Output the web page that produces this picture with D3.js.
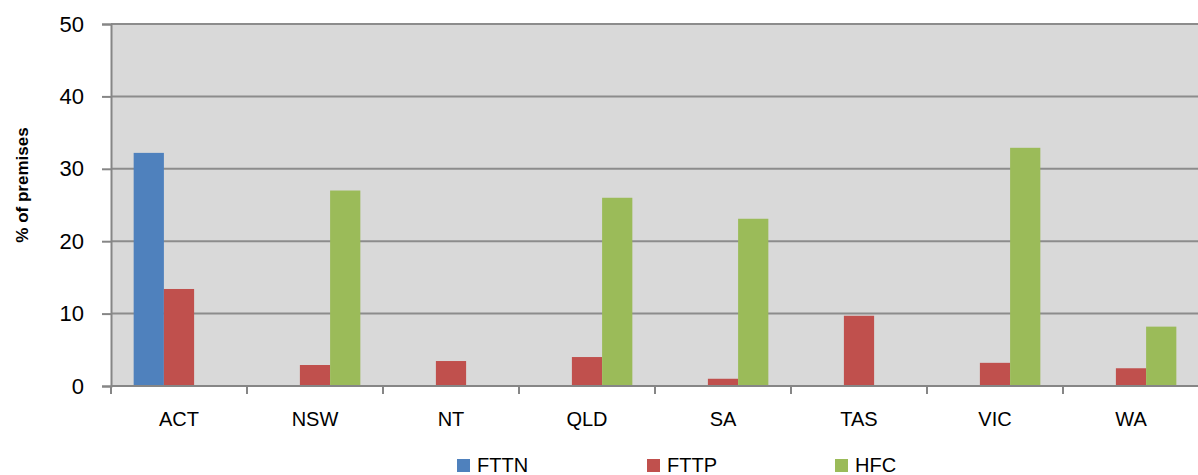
<!DOCTYPE html>
<html>
<head>
<meta charset="utf-8">
<script src="https://cdn.jsdelivr.net/npm/d3@7"></script>
<style>
  body { margin: 0; background: #fff; }
  text { font-family: "Liberation Sans", Arial, sans-serif; fill: #000; }
</style>
</head>
<body>
<div id="chart"></div>
<script>
var states      = ['ACT', 'NSW', 'NT', 'QLD', 'SA', 'TAS', 'VIC', 'WA'];
var series      = ['FTTN', 'FTTP', 'HFC'];
var fttn        = [32.2, 0, 0, 0, 0, 0, 0, 0];
var fttp        = [13.4, 2.9, 3.45, 4.0, 1.0, 9.7, 3.2, 2.45];
var hfc         = [0, 27.0, 0, 26.0, 23.1, 0, 32.9, 8.2];
var y_ticks     = [0, 10, 20, 30, 40, 50];

var colors      = { FTTN: '#4F81BD', FTTP: '#C0504D', HFC: '#9BBB59' };
var values      = { FTTN: fttn, FTTP: fttp, HFC: hfc };

var chart_width  = 1198;
var chart_height = 475;
var plot = { left: 111, right: 1199, top: 24, bottom: 386 };

var svg = d3.select('#chart')
    .append('svg')
    .attr('width', chart_width)
    .attr('height', chart_height);

// scales
var x_scale = d3.scaleBand()
    .domain(states)
    .range([plot.left, plot.right]);

// gap between groups is 1.5 bar widths, like the excel default
var bar_w = x_scale.bandwidth() / (series.length + 1.5);

var x_inner = d3.scaleBand()
    .domain(series)
    .range([0, bar_w * series.length]);

var y_scale = d3.scaleLinear()
    .domain([0, 50])
    .range([plot.bottom, plot.top]);

// plot background
svg.append('rect')
    .attr('x', plot.left)
    .attr('y', plot.top)
    .attr('width', plot.right - plot.left)
    .attr('height', plot.bottom - plot.top)
    .attr('fill', '#D9D9D9');

// gridlines
svg.append('g')
    .selectAll('line')
    .data(y_ticks.filter(function(d){ return d > 0; }))
    .enter()
    .append('line')
    .attr('x1', plot.left)
    .attr('x2', plot.right)
    .attr('y1', function(d){ return y_scale(d); })
    .attr('y2', function(d){ return y_scale(d); })
    .attr('stroke', '#8C8C8C')
    .attr('stroke-width', 2);

// bars
var groups = svg.append('g')
    .selectAll('g')
    .data(states)
    .enter()
    .append('g')
    .attr('transform', function(d){
        return 'translate(' + (x_scale(d) + bar_w * 0.75) + ',0)';
    });

groups.selectAll('rect')
    .data(function(d, i){
        return series.map(function(s){ return { key: s, value: values[s][i] }; });
    })
    .enter()
    .append('rect')
    .filter(function(d){ return d.value > 0; })
    .attr('x', function(d){ return x_inner(d.key); })
    .attr('y', function(d){ return y_scale(d.value); })
    .attr('width', x_inner.bandwidth())
    .attr('height', function(d){ return y_scale(0) - y_scale(d.value); })
    .attr('fill', function(d){ return colors[d.key]; });

// y axis
var y_axis = svg.append('g')
    .attr('transform', 'translate(' + plot.left + ',0)')
    .call(d3.axisLeft(y_scale).tickValues(y_ticks).tickSize(9).tickPadding(18));
y_axis.select('.domain').attr('stroke', '#868686').attr('stroke-width', 2);
y_axis.selectAll('.tick line').attr('stroke', '#868686').attr('stroke-width', 2);
y_axis.selectAll('.tick text')
    .attr('font-size', 22)
    .attr('font-family', '"Liberation Sans", Arial, sans-serif')
    .attr('fill', '#000');

// x axis, ticks on band edges
var x_axis = svg.append('g')
    .attr('transform', 'translate(0,' + plot.bottom + ')');
x_axis.append('line')
    .attr('x1', plot.left)
    .attr('x2', plot.right)
    .attr('stroke', '#868686')
    .attr('stroke-width', 2);
x_axis.selectAll('.edge')
    .data(states)
    .enter()
    .append('line')
    .attr('class', 'edge')
    .attr('x1', function(d){ return x_scale(d); })
    .attr('x2', function(d){ return x_scale(d); })
    .attr('y1', 0)
    .attr('y2', 8)
    .attr('stroke', '#868686')
    .attr('stroke-width', 2);
x_axis.selectAll('text')
    .data(states)
    .enter()
    .append('text')
    .text(function(d){ return d; })
    .attr('x', function(d){ return x_scale(d) + x_scale.bandwidth() / 2; })
    .attr('y', 40)
    .attr('font-size', 20)
    .attr('text-anchor', 'middle');

// y axis title
svg.append('text')
    .text('% of premises')
    .attr('transform', 'translate(28,185) rotate(-90)')
    .attr('font-size', 17)
    .attr('font-weight', 'bold')
    .attr('text-anchor', 'middle');

// legend
var legend_x = { FTTN: 457, FTTP: 647, HFC: 835 };
var legend = svg.append('g')
    .selectAll('g')
    .data(series)
    .enter()
    .append('g')
    .attr('transform', function(d){ return 'translate(' + legend_x[d] + ',459)'; });
legend.append('rect')
    .attr('width', 13)
    .attr('height', 13)
    .attr('fill', function(d){ return colors[d]; });
legend.append('text')
    .text(function(d){ return d; })
    .attr('x', 20)
    .attr('y', 13)
    .attr('font-size', 20);
</script>
</body>
</html>
